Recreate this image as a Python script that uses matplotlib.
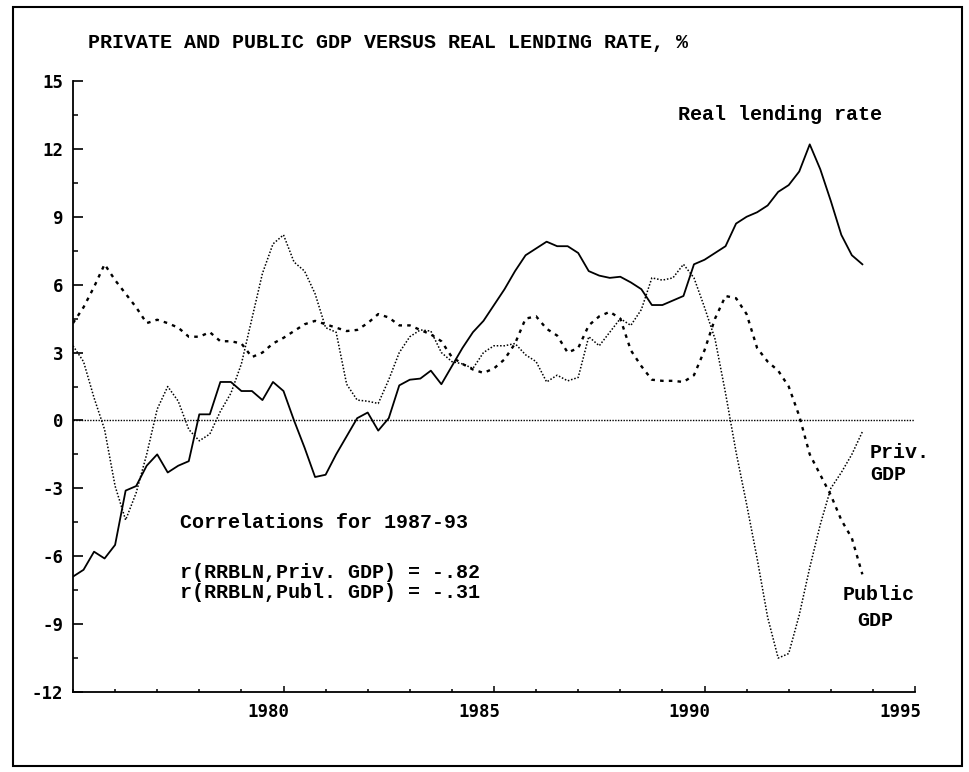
import numpy as np
import matplotlib
matplotlib.use('Agg')
import matplotlib.pyplot as plt
from matplotlib.ticker import MultipleLocator
from matplotlib.transforms import ScaledTranslation

plt.rcParams['axes.unicode_minus'] = False

# quarterly data, 1975Q1 - 1993Q4
start_year = 1975
real_rate = [
    -6.9, -6.6, -5.8, -6.1, -5.5, -3.1, -2.9, -2.0,
    -1.5, -2.3, -2.0, -1.8, 0.27, 0.27, 1.7, 1.7,
    1.3, 1.3, 0.9, 1.7, 1.3, 0.0, -1.2, -2.5,
    -2.4, -1.5, -0.7, 0.1, 0.35, -0.45, 0.1, 1.55,
    1.8, 1.85, 2.2, 1.6, 2.4, 3.2, 3.9, 4.4,
    5.1, 5.8, 6.6, 7.3, 7.6, 7.9, 7.7, 7.7,
    7.4, 6.6, 6.4, 6.3, 6.35, 6.1, 5.8, 5.1,
    5.1, 5.3, 5.5, 6.9, 7.1, 7.4, 7.7, 8.7,
    9.0, 9.2, 9.5, 10.1, 10.4, 11.0, 12.2, 11.1,
    9.7, 8.2, 7.3, 6.9,
]
priv_gdp = [
    3.3, 2.6, 1.0, -0.4, -2.9, -4.4, -3.2, -1.5,
    0.5, 1.5, 0.85, -0.4, -0.9, -0.6, 0.4, 1.2,
    2.5, 4.5, 6.5, 7.8, 8.2, 7.0, 6.6, 5.6,
    4.1, 3.9, 1.6, 0.9, 0.85, 0.75, 1.8, 3.0,
    3.7, 4.0, 3.95, 3.0, 2.6, 2.5, 2.3, 3.0,
    3.3, 3.3, 3.4, 2.9, 2.6, 1.7, 2.0, 1.75,
    1.9, 3.7, 3.3, 3.9, 4.5, 4.2, 4.9, 6.3,
    6.2, 6.3, 6.9, 6.3, 5.0, 3.6, 1.2, -1.4,
    -3.7, -6.1, -8.7, -10.5, -10.3, -8.6, -6.5, -4.6,
    -3.0, -2.3, -1.5, -0.5,
]
publ_gdp = [
    4.3, 5.0, 5.9, 6.9, 6.2, 5.6, 5.0, 4.3,
    4.45, 4.3, 4.1, 3.7, 3.7, 3.9, 3.5, 3.5,
    3.4, 2.8, 3.0, 3.4, 3.65, 3.95, 4.25, 4.4,
    4.25, 4.1, 3.95, 4.0, 4.3, 4.7, 4.55, 4.2,
    4.2, 4.0, 3.8, 3.5, 2.8, 2.5, 2.25, 2.1,
    2.3, 2.7, 3.4, 4.5, 4.6, 4.05, 3.75, 3.0,
    3.2, 4.2, 4.6, 4.8, 4.5, 3.1, 2.4, 1.8,
    1.75, 1.75, 1.7, 2.0, 3.1, 4.5, 5.5, 5.4,
    4.7, 3.2, 2.6, 2.2, 1.5, 0.2, -1.5, -2.4,
    -3.3, -4.4, -5.2, -6.8,
]
quarters = start_year + np.arange(len(real_rate)) / 4

x_ticks = [1980, 1985, 1990, 1995]
y_ticks = list(range(-12, 16, 3))

title = 'PRIVATE AND PUBLIC GDP VERSUS REAL LENDING RATE, %'

W, H = 970, 772
fig = plt.figure(figsize=(W / 100, H / 100), dpi=100)


def fx(x):
    return x / W


def fy(y):
    return 1 - y / H


ax = fig.add_axes([fx(73), fy(692), (915 - 73) / W, (692 - 81) / H])

ax.plot(quarters, real_rate, color='black', lw=1.3)
ax.plot(quarters, priv_gdp, color='black', lw=1.1, linestyle=(0, (1, 1.2)))
ax.plot(quarters, publ_gdp, color='black', lw=1.7, linestyle=(0, (1.5, 2.2)))
ax.axhline(0, color='black', lw=1, linestyle=(0, (1, 1)))

ax.set_xlim(1975, 1995)
ax.set_ylim(-12, 15)
ax.spines['top'].set_visible(False)
ax.spines['right'].set_visible(False)
ax.spines['left'].set_linewidth(1.3)
ax.spines['bottom'].set_linewidth(1.3)

ax.set_xticks(x_ticks)
ax.set_xticklabels([str(t) for t in x_ticks])
ax.xaxis.set_minor_locator(MultipleLocator(1))
ax.set_yticks(y_ticks)
ax.set_yticklabels([str(t) for t in y_ticks])
ax.yaxis.set_minor_locator(MultipleLocator(1.5))

ax.tick_params(axis='y', which='major', direction='in', length=7, width=1.2, pad=7)
ax.tick_params(axis='y', which='minor', direction='in', length=3.5, width=1.1)
ax.tick_params(axis='x', which='major', direction='in', length=4.5, width=1.1, pad=8)
ax.tick_params(axis='x', which='minor', direction='in', length=2.2, width=1.1)

tick_font = dict(family='DejaVu Sans Mono', weight='bold', size=12.5)
for lab in ax.get_yticklabels():
    lab.set(**tick_font)
offset = ScaledTranslation(6 / 100, 0, fig.dpi_scale_trans)
for lab in ax.get_xticklabels():
    lab.set(**tick_font)
    lab.set_horizontalalignment('right')
    lab.set_transform(lab.get_transform() + offset)

txt = dict(family='Liberation Mono', weight='bold', size=14.4, color='black', va='center')
fig.text(fx(88), fy(43), title, **txt)
fig.text(fx(678), fy(115), 'Real lending rate', **txt)
fig.text(fx(180), fy(522), 'Correlations for 1987-93', **txt)
fig.text(fx(180), fy(572), 'r(RRBLN,Priv. GDP) = -.82', **txt)
fig.text(fx(180), fy(593), 'r(RRBLN,Publ. GDP) = -.31', **txt)
fig.text(fx(870), fy(452), 'Priv.', **txt)
fig.text(fx(870), fy(475), 'GDP', **txt)
fig.text(fx(843), fy(595), 'Public', **txt)
fig.text(fx(857), fy(620), 'GDP', **txt)

fig.add_artist(plt.Rectangle((fx(13), fy(766)), (962 - 13) / W, (766 - 7) / H,
                             fill=False, lw=1.5, color='black',
                             transform=fig.transFigure))

fig.savefig('out.png', dpi=100)
